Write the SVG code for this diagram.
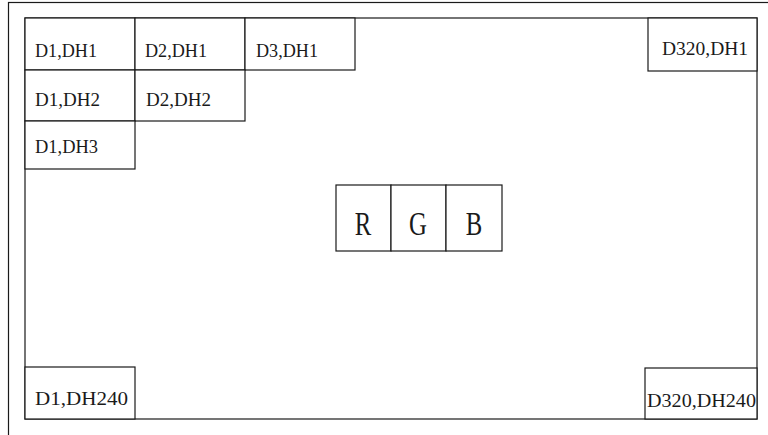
<svg xmlns="http://www.w3.org/2000/svg" width="768" height="435" viewBox="0 0 768 435">
<style>
.b{fill:#fff;stroke:#1a1a1a;stroke-width:1.2}
.t{font-family:"Liberation Serif",serif;font-size:18px;fill:#1a1a1a}
.c{font-family:"Liberation Serif",serif;font-size:33px;fill:#1a1a1a;text-anchor:middle}
</style>
<rect width="768" height="435" fill="#fff"/>
<g id="frame"><rect x="8.5" y="2.5" width="780" height="450" fill="none" stroke="#1a1a1a" stroke-width="1.2"/></g>
<g id="screen"><rect class="b" x="25" y="18" width="732" height="401"/></g>
<g id="d1dh1"><rect class="b" x="25" y="18" width="110" height="52"/><text class="t" x="35" y="57" textLength="62" lengthAdjust="spacingAndGlyphs">D1,DH1</text></g>
<g id="d2dh1"><rect class="b" x="135" y="18" width="110" height="52"/><text class="t" x="145" y="57" textLength="62" lengthAdjust="spacingAndGlyphs">D2,DH1</text></g>
<g id="d3dh1"><rect class="b" x="245" y="18" width="110" height="52"/><text class="t" x="256" y="57" textLength="62" lengthAdjust="spacingAndGlyphs">D3,DH1</text></g>
<g id="d1dh2"><rect class="b" x="25" y="70" width="110" height="51"/><text class="t" x="35" y="106" textLength="65" lengthAdjust="spacingAndGlyphs">D1,DH2</text></g>
<g id="d2dh2"><rect class="b" x="135" y="70" width="110" height="51"/><text class="t" x="146" y="106" textLength="65" lengthAdjust="spacingAndGlyphs">D2,DH2</text></g>
<g id="d1dh3"><rect class="b" x="25" y="121" width="110" height="48"/><text class="t" x="35" y="153" textLength="63" lengthAdjust="spacingAndGlyphs">D1,DH3</text></g>
<g id="d320dh1"><rect class="b" x="648" y="18" width="109" height="53"/><text class="t" x="662" y="55" textLength="86" lengthAdjust="spacingAndGlyphs">D320,DH1</text></g>
<g id="d1dh240"><rect class="b" x="25" y="367" width="110" height="52"/><text class="t" x="35" y="405" textLength="93" lengthAdjust="spacingAndGlyphs">D1,DH240</text></g>
<g id="d320dh240"><rect class="b" x="645" y="368" width="112" height="51"/><text class="t" x="647" y="407" textLength="109" lengthAdjust="spacingAndGlyphs">D320,DH240</text></g>
<g id="rgb">
<rect class="b" x="336" y="185" width="55" height="66"/>
<rect class="b" x="391" y="185" width="55" height="66"/>
<rect class="b" x="446" y="185" width="56" height="66"/>
<text class="c" x="363" y="235" transform="translate(363 0) scale(0.75 1) translate(-363 0)">R</text>
<text class="c" x="418" y="235" transform="translate(418 0) scale(0.75 1) translate(-418 0)">G</text>
<text class="c" x="474" y="235" transform="translate(474 0) scale(0.75 1) translate(-474 0)">B</text>
</g>
<g id="connectors"/>
</svg>
